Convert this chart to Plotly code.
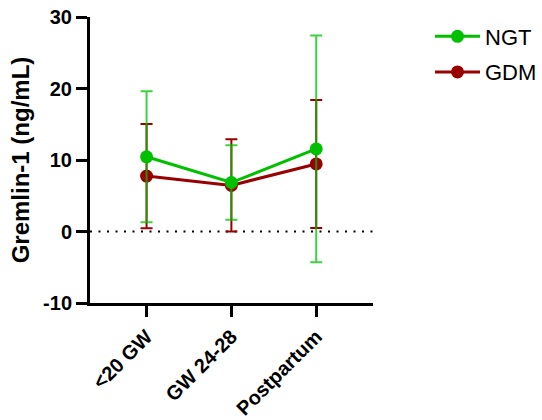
import plotly.graph_objects as go

categories = ["<20 GW", "GW 24-28", "Postpartum"]
ngt_mean = [10.45, 6.85, 11.55]
ngt_sd = [9.15, 5.2, 15.85]
gdm_mean = [7.75, 6.45, 9.45]
gdm_sd = [7.3, 6.45, 8.95]
y_ticks = [-10, 0, 10, 20, 30]
y_ticktext = ["-10", "0", "10", "20", "30"]

GREEN = "#00C000"
RED = "#990000"
FONT = "Arial, Liberation Sans, sans-serif"

W, H = 542, 420
ML, MR, MT, MB = 90, 0, 17, 117
PLOT_W = 284
PLOT_H = H - MT - MB
paper_w = W - ML - MR

fig = go.Figure()

# GDM error bars + line
fig.add_trace(go.Scatter(
    x=categories, y=gdm_mean, mode="markers", showlegend=False,
    marker=dict(size=1, color="rgba(0,0,0,0)"),
    error_y=dict(type="data", array=gdm_sd, visible=True, color=RED, thickness=2, width=6),
    hoverinfo="skip"))
fig.add_trace(go.Scatter(
    x=categories, y=gdm_mean, mode="lines+markers", name="GDM",
    line=dict(color=RED, width=3), marker=dict(size=13, color=RED),
    legendgroup="b", legendrank=2))
# NGT error bars + line
fig.add_trace(go.Scatter(
    x=categories, y=ngt_mean, mode="markers", showlegend=False,
    marker=dict(size=1, color="rgba(0,0,0,0)"),
    error_y=dict(type="data", array=ngt_sd, visible=True, color="rgba(0,192,0,0.75)", thickness=2, width=6),
    hoverinfo="skip"))
fig.add_trace(go.Scatter(
    x=categories, y=ngt_mean, mode="lines+markers", name="NGT",
    line=dict(color=GREEN, width=3), marker=dict(size=13, color=GREEN),
    legendgroup="a", legendrank=1))

fig.add_shape(type="line", xref="x domain", x0=0, x1=1, yref="y", y0=0, y1=0,
              line=dict(color="black", width=2, dash="2px,6.5px"), layer="below")

fig.update_layout(
    width=W, height=H,
    margin=dict(l=ML, r=MR, t=MT, b=MB),
    plot_bgcolor="white", paper_bgcolor="white",
    font=dict(family=FONT, color="black"),
    showlegend=True,
    legend=dict(x=(431 - ML) / paper_w, y=1.0 + 1.5 / PLOT_H, xanchor="left", yanchor="top",
                font=dict(size=22, family=FONT, color="black"),
                traceorder="grouped", tracegroupgap=4, itemwidth=45,
                bgcolor="rgba(0,0,0,0)"),
    xaxis=dict(type="category", categoryorder="array", categoryarray=categories,
               domain=[0, PLOT_W / paper_w],
               range=[-0.667, 2.674], showline=True, linecolor="black", linewidth=3,
               ticks="outside", ticklen=11, tickwidth=3, tickcolor="black",
               tickangle=-45, showgrid=False, zeroline=False, automargin=False,
               tickfont=dict(size=20, family=FONT, weight="bold")),
    yaxis=dict(range=[-10, 30], tickvals=y_ticks, ticktext=y_ticktext, showline=True,
               linecolor="black", automargin=False,
               linewidth=3, ticks="outside", ticklen=11, tickwidth=3, tickcolor="black",
               showgrid=False, zeroline=False,
               tickfont=dict(size=20, family=FONT, weight="bold"),
               title=dict(text="Gremlin-1 (ng/mL)", standoff=7,
                          font=dict(size=24, family=FONT, weight="bold"))),
)

fig.write_html("out.html", config={"displayModeBar": False},
               post_script="document.body.style.margin='0';document.body.style.overflow='hidden';")
